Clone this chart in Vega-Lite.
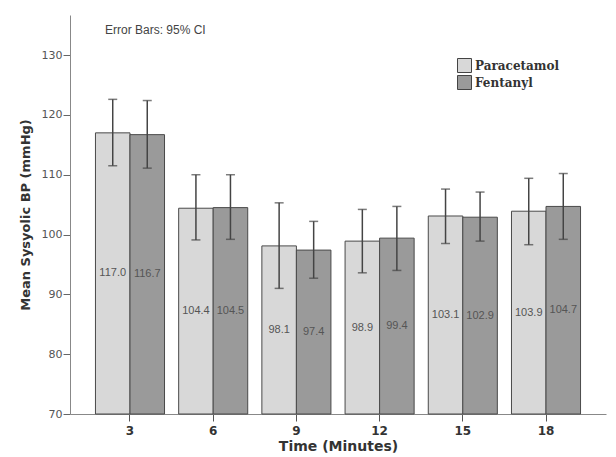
{
  "$schema": "https://vega.github.io/schema/vega-lite/v6.json",
  "width": 536,
  "height": 399,
  "autosize": {"type": "none"},
  "padding": {"left": 70, "top": 15, "right": 10, "bottom": 43},
  "background": "white",
  "title": {
    "text": "Error Bars: 95% CI",
    "anchor": "start",
    "frame": "group",
    "orient": "top",
    "offset": 0,
    "dx": 35,
    "dy": 22,
    "font": "Liberation Sans",
    "fontSize": 12,
    "fontWeight": "normal",
    "color": "#444"
  },
  "config": {
    "view": {"stroke": null},
    "axis": {"grid": false}
  },
  "data": {
    "values": [
      {"time": "3", "drug": "Paracetamol", "mean": 117.0, "lo": 111.5, "hi": 122.6},
      {"time": "3", "drug": "Fentanyl", "mean": 116.7, "lo": 111.1, "hi": 122.4},
      {"time": "6", "drug": "Paracetamol", "mean": 104.4, "lo": 99.1, "hi": 110.0},
      {"time": "6", "drug": "Fentanyl", "mean": 104.5, "lo": 99.2, "hi": 110.0},
      {"time": "9", "drug": "Paracetamol", "mean": 98.1, "lo": 91.0, "hi": 105.3},
      {"time": "9", "drug": "Fentanyl", "mean": 97.4, "lo": 92.7, "hi": 102.2},
      {"time": "12", "drug": "Paracetamol", "mean": 98.9, "lo": 93.6, "hi": 104.2},
      {"time": "12", "drug": "Fentanyl", "mean": 99.4, "lo": 94.0, "hi": 104.7},
      {"time": "15", "drug": "Paracetamol", "mean": 103.1, "lo": 98.5, "hi": 107.6},
      {"time": "15", "drug": "Fentanyl", "mean": 102.9, "lo": 98.9, "hi": 107.1},
      {"time": "18", "drug": "Paracetamol", "mean": 103.9, "lo": 98.3, "hi": 109.4},
      {"time": "18", "drug": "Fentanyl", "mean": 104.7, "lo": 99.2, "hi": 110.2}
    ]
  },
  "encoding": {
    "x": {
      "field": "time",
      "type": "ordinal",
      "sort": ["3", "6", "9", "12", "15", "18"],
      "scale": {"paddingInner": 0.17, "paddingOuter": 0.306},
      "axis": {
        "title": "Time (Minutes)",
        "labelAngle": 0,
        "labelFont": "DejaVu Sans",
        "labelFontWeight": "bold",
        "labelFontSize": 12,
        "labelColor": "#333",
        "labelPadding": 4,
        "tickSize": 7,
        "tickColor": "#555",
        "domainColor": "#888",
        "titleFont": "DejaVu Sans",
        "titleFontWeight": "bold",
        "titleFontSize": 14,
        "titleColor": "#333",
        "titlePadding": 3
      }
    },
    "xOffset": {
      "field": "drug",
      "type": "nominal",
      "sort": ["Paracetamol", "Fentanyl"],
      "scale": {"paddingInner": 0, "paddingOuter": 0}
    }
  },
  "layer": [
    {
      "mark": {"type": "bar", "stroke": "#4a4a4a", "strokeWidth": 1},
      "encoding": {
        "y": {
          "field": "mean",
          "type": "quantitative",
          "scale": {"domain": [70, 136.7], "nice": false, "zero": false},
          "axis": {
            "title": "Mean Sysyolic BP (mmHg)",
            "values": [70, 80, 90, 100, 110, 120, 130],
            "labelFont": "DejaVu Sans",
            "labelFontSize": 11,
            "labelColor": "#555",
            "labelPadding": 1,
            "tickSize": 7,
            "tickColor": "#666",
            "domainColor": "#888",
            "titleFont": "DejaVu Sans",
            "titleFontWeight": "bold",
            "titleFontSize": 13,
            "titleColor": "#333",
            "titlePadding": 9
          }
        },
        "y2": {"datum": 70},
        "fill": {
          "field": "drug",
          "type": "nominal",
          "sort": ["Paracetamol", "Fentanyl"],
          "scale": {"domain": ["Paracetamol", "Fentanyl"], "range": ["#d8d8d8", "#9a9a9a"]},
          "legend": {
            "title": null,
            "orient": "none",
            "legendX": 387,
            "legendY": 43,
            "padding": 0,
            "symbolType": "square",
            "symbolSize": 196,
            "symbolStrokeColor": "#444",
            "symbolStrokeWidth": 1,
            "labelFont": "DejaVu Serif",
            "labelFontWeight": "bold",
            "labelFontSize": 12,
            "labelColor": "#333",
            "labelOffset": 3,
            "rowPadding": -3
          }
        }
      }
    },
    {
      "mark": {"type": "rule", "color": "#444", "strokeWidth": 1.5},
      "encoding": {
        "y": {"field": "lo", "type": "quantitative"},
        "y2": {"field": "hi"}
      }
    },
    {
      "mark": {"type": "tick", "color": "#444", "thickness": 1.5, "size": 9, "orient": "horizontal"},
      "encoding": {
        "y": {"field": "lo", "type": "quantitative"}
      }
    },
    {
      "mark": {"type": "tick", "color": "#444", "thickness": 1.5, "size": 9, "orient": "horizontal"},
      "encoding": {
        "y": {"field": "hi", "type": "quantitative"}
      }
    },
    {
      "transform": [{"calculate": "(datum.mean + 70) / 2", "as": "mid"}],
      "mark": {"type": "text", "font": "Liberation Sans", "fontSize": 11, "color": "#555", "baseline": "middle"},
      "encoding": {
        "y": {"field": "mid", "type": "quantitative"},
        "text": {"field": "mean", "type": "quantitative", "format": ".1f"}
      }
    }
  ]
}
